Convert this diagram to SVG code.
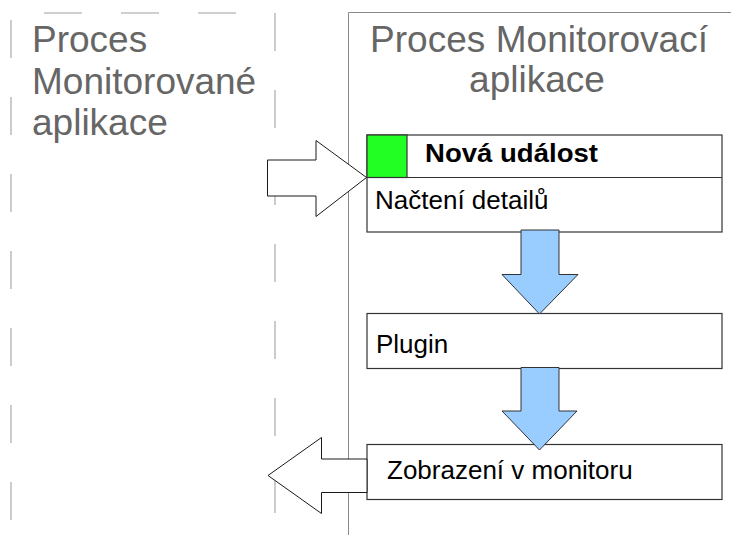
<svg xmlns="http://www.w3.org/2000/svg" width="731" height="535" viewBox="0 0 731 535">
  <style>
    .title { font-family: "Liberation Sans", Arial, sans-serif; font-size: 37px; fill: #666666; }
    .label { font-family: "Liberation Sans", Arial, sans-serif; font-size: 26px; fill: #000000; }
    .bold { font-weight: bold; }
    .lane { stroke: #8a8a8a; stroke-width: 1; fill: none; }
    .dash { stroke: #c0c0c0; stroke-width: 1.6; fill: none; stroke-dasharray: 38 39; }
    .box { fill: #ffffff; stroke: #333333; stroke-width: 1.2; }
    .flow { fill: #99ccff; stroke: #333333; stroke-width: 1; stroke-linejoin: miter; }
    .io { fill: #ffffff; stroke: #1a1a1a; stroke-width: 1; stroke-linejoin: miter; }
  </style>

  <rect width="731" height="535" fill="#ffffff"/>

  <!-- swimlane: monitored application process (dashed frame) -->
  <g id="lane-monitored">
    <line class="dash" x1="44" y1="13" x2="236" y2="13"/>
    <line class="dash" x1="11" y1="20" x2="11" y2="521"/>
    <line class="dash" x1="275" y1="13" x2="275" y2="513"/>
    <text class="title" x="32" y="52">Proces</text>
    <text class="title" x="32" y="93.5">Monitorované</text>
    <text class="title" x="32" y="134.5">aplikace</text>
  </g>

  <!-- swimlane: monitoring application process -->
  <g id="lane-monitoring">
    <polyline class="lane" points="731,12.5 348.5,12.5 348.5,535"/>
    <text class="title" x="539" y="51.5" text-anchor="middle" textLength="338">Proces Monitorovací</text>
    <text class="title" x="537" y="91.5" text-anchor="middle">aplikace</text>
  </g>

  <!-- new event: header row with status square + detail loading row -->
  <g id="node-event">
    <rect class="box" x="367" y="135" width="355" height="97"/>
    <line class="box" x1="367" y1="177.5" x2="722" y2="177.5"/>
    <rect x="367" y="135" width="40" height="42.5" fill="#22ff22" stroke="#333333" stroke-width="1.2"/>
    <text class="label bold" x="425" y="162" textLength="173" lengthAdjust="spacingAndGlyphs">Nová událost</text>
    <text class="label" x="375" y="208.5">Načtení detailů</text>
  </g>

  <g id="node-plugin">
    <rect class="box" x="367" y="313.5" width="355" height="55"/>
    <text class="label" x="376" y="352.5">Plugin</text>
  </g>

  <g id="node-display">
    <rect class="box" x="367" y="444.5" width="355" height="55"/>
    <text class="label" x="387" y="478.5">Zobrazení v monitoru</text>
  </g>

  <!-- connectors -->
  <g id="connectors">
    <!-- block arrows between steps -->
    <polygon class="flow" points="521,230 559,230 559,274.5 578,274.5 539.5,314 502,274.5 521,274.5"/>
    <polygon class="flow" points="521,367.5 559,367.5 559,411 577,411 539.5,450 502,411 521,411"/>
    <!-- incoming event from the monitored process -->
    <polygon class="io" points="267.5,160 316,160 316,140.5 366.5,177.5 316,216.5 316,196 267.5,196"/>
    <!-- output back to the monitored process -->
    <polygon class="io" points="367,459 321.5,459 321.5,437.5 268,475.5 321.5,513.5 321.5,492.5 367,492.5"/>
  </g>
</svg>
